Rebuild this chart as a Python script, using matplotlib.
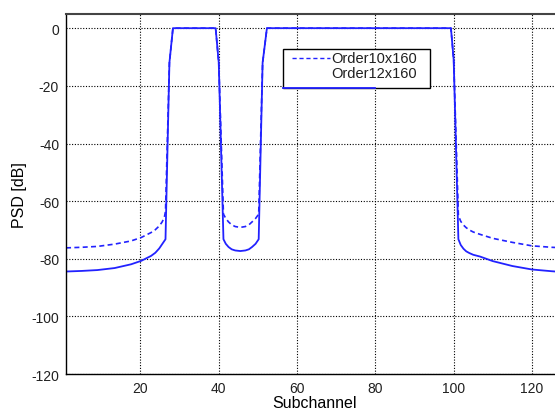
import matplotlib
matplotlib.use("Agg")
import matplotlib.pyplot as plt
from matplotlib.lines import Line2D
from matplotlib.patches import Rectangle


# =========================
# Data
# =========================

subchannel = [1, 5, 9, 13.4, 17.6, 20.2, 22.7, 23.8, 24.8, 25.5, 26.1, 26.4, 27.4, 28.3,
              39.2, 40.0, 41.2, 41.8, 42.5, 43.3, 44.2, 45.5, 46.8, 47.7, 48.5, 49.4, 50.2,
              51.2, 52.3, 99.3, 100.0, 101.2, 101.8, 102.5, 103.2, 104, 105, 106.7,
              110, 115, 120, 125, 128]

psd_order10 = [-76.2, -76.0, -75.7, -74.9, -73.8, -72.6, -70.9, -69.9, -68.6, -67.3, -65.7, -63.5, -12, 0,
               0, -12, -64.5, -66.0, -67.2, -68.2, -68.8, -69.1, -68.8, -68.2, -67.2, -66.0, -64.5,
               -12, 0, 0, -11, -65, -67.0, -68.3, -69.2, -70.0, -70.7, -71.5,
               -72.9, -74.3, -75.5, -76.0, -76.2]

psd_order12 = [-84.4, -84.2, -83.9, -83.2, -81.9, -80.7, -79.0, -77.9, -76.4, -75.0, -73.8, -73.2, -12, 0,
               0, -12, -73.2, -74.8, -75.9, -76.7, -77.1, -77.3, -77.1, -76.7, -75.9, -74.8, -73.2,
               -12, 0, 0, -11, -73.2, -75.2, -76.5, -77.4, -78.0, -78.6, -79.2,
               -80.8, -82.5, -83.7, -84.3, -84.6]

labels = ["Order10x160", "Order12x160"]
x_ticks = [20, 40, 60, 80, 100, 120]
y_ticks = [0, -20, -40, -60, -80, -100, -120]

plt.rcParams["font.family"] = ["Liberation Sans", "DejaVu Sans"]
plt.rcParams["axes.unicode_minus"] = False

fig = plt.figure(figsize=(5.55, 4.10), dpi=100)
# axes run past the right edge, as in the cropped reference
ax = fig.add_axes([0.119, 0.085, 0.896, 0.879])

ax.plot(subchannel, psd_order12, color="#2222ff", linewidth=1.3)
ax.plot(subchannel, psd_order10, color="#2222ff", linewidth=1.2, linestyle=(0, (3, 2)))

ax.set_xlim(1, 128)
ax.set_ylim(-120, 5)
ax.set_xticks(x_ticks)
ax.set_yticks(y_ticks)
ax.tick_params(direction="in", length=0, labelsize=10, colors="#202020", pad=5)

ax.grid(True, color="black", linestyle=(0, (1, 1.5)), linewidth=0.8)

for side in ["left", "bottom"]:
    ax.spines[side].set_color("black")
    ax.spines[side].set_linewidth(1.0)
ax.spines["top"].set_color("#444444")
ax.spines["top"].set_linewidth(1.5)

ax.set_xlabel("Subchannel", fontsize=11.5, labelpad=0)
ax.set_ylabel("PSD [dB]", fontsize=11.5, labelpad=3)

# =========================
# Legend box (drawn by hand, with the odd solid sample on the bottom edge)
# =========================

box_x0, box_x1 = 0.436, 0.732
box_y0, box_y1 = 0.7936, 0.902
ax.add_patch(Rectangle((box_x0, box_y0), box_x1 - box_x0, box_y1 - box_y0,
                       transform=ax.transAxes, facecolor="white",
                       edgecolor="black", linewidth=1.0, zorder=5))
ax.add_line(Line2D([0.454, 0.531], [0.878, 0.878], transform=ax.transAxes,
                   color="#2222ff", linewidth=1.0, linestyle=(0, (3, 2)), zorder=6))
ax.add_line(Line2D([box_x0, 0.621], [box_y0, box_y0], transform=ax.transAxes,
                   color="#2222ff", linewidth=1.3, zorder=6))
ax.text(0.705, 0.878, labels[0], transform=ax.transAxes, ha="right",
        va="center", fontsize=10.5, color="#202020", zorder=7)
ax.text(0.705, 0.836, labels[1], transform=ax.transAxes, ha="right",
        va="center", fontsize=10.5, color="#202020", zorder=7)

fig.savefig("out.png", dpi=100)
